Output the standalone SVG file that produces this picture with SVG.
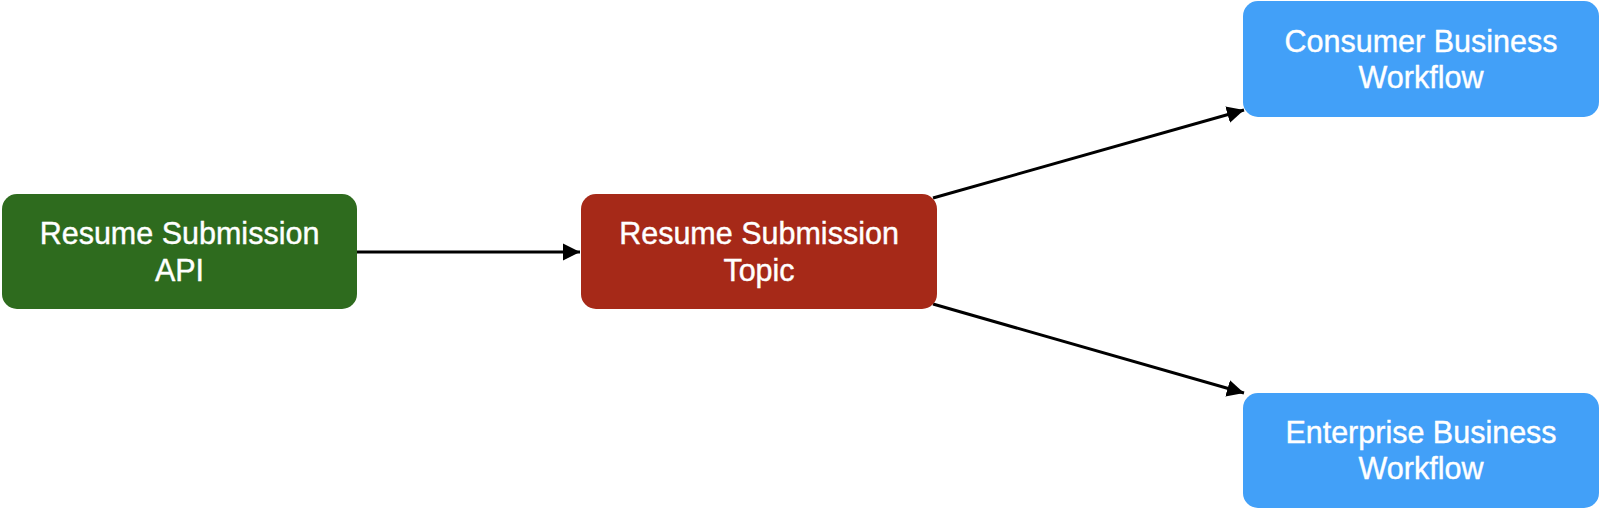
<svg xmlns="http://www.w3.org/2000/svg" width="1600" height="509" viewBox="0 0 1600 509">
  <style>
    .lbl { font-family: "Liberation Sans", Arial, Helvetica, sans-serif; font-size: 30.5px; fill: #ffffff; text-anchor: middle; stroke: #ffffff; stroke-width: 0.4; }
    .conn { stroke: #000000; stroke-width: 3; fill: none; }
  </style>
  <defs>
    <marker id="arrow" markerUnits="userSpaceOnUse" markerWidth="18" markerHeight="18" viewBox="0 0 18 18" refX="17" refY="9" orient="auto">
      <path d="M0,0.5 L17,9 L0,17.5 Z" fill="#000000"/>
    </marker>
  </defs>
  <rect width="1600" height="509" fill="#ffffff"/>
  <g id="connectors">
    <line class="conn" x1="357" y1="252" x2="580" y2="252" marker-end="url(#arrow)"/>
    <line class="conn" x1="933" y1="198" x2="1244" y2="110" marker-end="url(#arrow)"/>
    <line class="conn" x1="933" y1="304" x2="1244" y2="393" marker-end="url(#arrow)"/>
  </g>
  <g id="api">
    <rect x="2" y="194" width="355" height="115" rx="15" fill="#2e6b1e"/>
    <text class="lbl" x="179.5" y="244">Resume Submission</text>
    <text class="lbl" x="179.5" y="281">API</text>
  </g>
  <g id="topic">
    <rect x="581" y="194" width="356" height="115" rx="15" fill="#a62918"/>
    <text class="lbl" x="759" y="244">Resume Submission</text>
    <text class="lbl" x="759" y="281">Topic</text>
  </g>
  <g id="consumer">
    <rect x="1243" y="1" width="356" height="116" rx="15" fill="#42a0f8"/>
    <text class="lbl" x="1421" y="52">Consumer Business</text>
    <text class="lbl" x="1421" y="88">Workflow</text>
  </g>
  <g id="enterprise">
    <rect x="1243" y="393" width="356" height="115" rx="15" fill="#42a0f8"/>
    <text class="lbl" x="1421" y="443">Enterprise Business</text>
    <text class="lbl" x="1421" y="479">Workflow</text>
  </g>
</svg>
